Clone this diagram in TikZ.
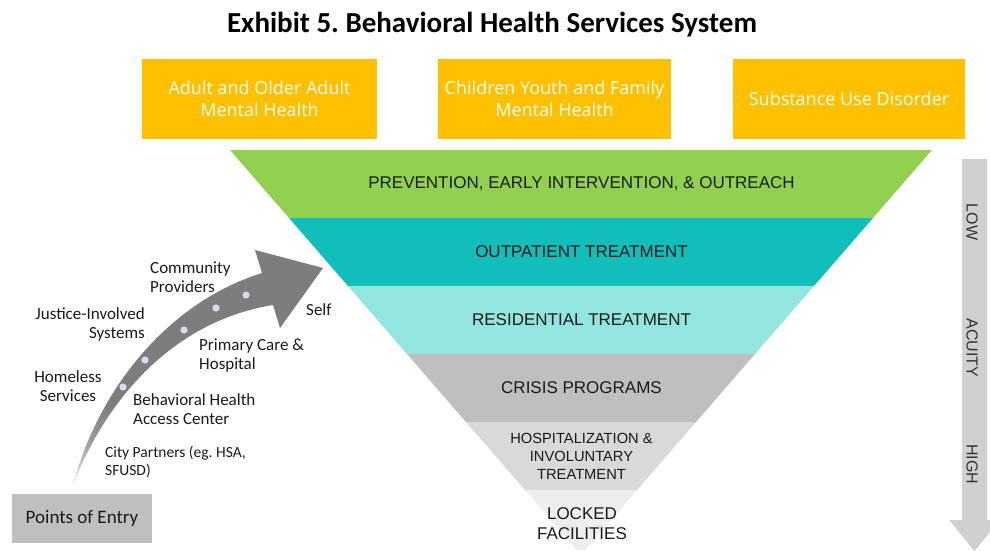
\documentclass[tikz,border=0pt]{standalone}
\usepackage{fontspec}
\setmainfont{Carlito}
\newfontfamily\boxfont{Open Sans}
\newfontfamily\bandfont{Liberation Sans}
\definecolor{orangec}{HTML}{FFC000}
\definecolor{greenc}{HTML}{92D050}
\definecolor{tealc}{HTML}{12BEB9}
\definecolor{cyanc}{HTML}{93E5DF}
\definecolor{grayc}{HTML}{BFBFBF}
\definecolor{lgrayc}{HTML}{D9D9D9}
\definecolor{llgrayc}{HTML}{EEEEEE}
\definecolor{acuityc}{HTML}{D0D0D0}
\definecolor{dotc}{HTML}{D6DBEF}
\definecolor{textc}{HTML}{1A1A1A}
\pgfdeclareverticalshading{entryshade}{100bp}{color(0bp)=(white); color(25bp)=(white!94!black); color(34bp)=(white!62!black); color(42bp)=(white!49!black); color(100bp)=(white!49!black)}
\begin{document}
\frenchspacing
\begin{tikzpicture}[x=1pt,y=-1pt,
  orangebox/.style={fill=orangec, text=white, font=\boxfont\fontsize{18}{22}\selectfont,
    align=center, minimum height=80pt, inner sep=0pt},
  bandlabel/.style={text=textc, font=\bandfont\fontsize{17}{20}\selectfont, align=center, inner sep=0pt},
  entrylabel/.style={text=textc, font=\fontsize{17}{19}\selectfont, inner sep=0pt},
  acuitylabel/.style={text=black!80, font=\bandfont\fontsize{16}{16}\selectfont, rotate=-90, inner sep=0pt},
  entrydot/.style={fill=dotc}
]
\useasboundingbox (0,0) rectangle (990,550);
\fill[white] (0,0) rectangle (990,550);

% title
\node[font=\bfseries\fontsize{29}{32}\selectfont, inner sep=0pt] (title) at (492,25) {Exhibit 5. Behavioral Health Services System};

% top boxes
\node[orangebox, minimum width=235pt] (adult) at (259.5,99) {Adult and Older Adult\\Mental Health};
\node[orangebox, minimum width=233pt] (child) at (554.5,99) {Children Youth and Family\\Mental Health};
\node[orangebox, minimum width=232pt] (sud) at (849,99) {Substance Use Disorder};

% funnel bands
\fill[greenc] (230,150) -- (932,150) -- (873,218) -- (289,218) -- cycle;
\fill[tealc] (289,218) -- (873,218) -- (814,286) -- (348,286) -- cycle;
\fill[cyanc] (348,286) -- (814,286) -- (755,354) -- (407,354) -- cycle;
\fill[grayc] (407,354) -- (755,354) -- (696,422) -- (466,422) -- cycle;
\fill[lgrayc] (466,422) -- (696,422) -- (637,490) -- (525,490) -- cycle;
\fill[llgrayc] (525,490) -- (637,490) -- (585,550) -- (577,550) -- cycle;

\node[bandlabel] (prev) at (581.5,184) {PREVENTION, EARLY INTERVENTION, \& OUTREACH};
\node[bandlabel] (outp) at (581.5,252) {OUTPATIENT TREATMENT};
\node[bandlabel] (resi) at (581.5,320) {RESIDENTIAL TREATMENT};
\node[bandlabel] (cris) at (581.5,388) {CRISIS PROGRAMS};
\node[bandlabel, font=\bandfont\fontsize{14.7}{18}\selectfont] (hosp) at (581.5,456) {HOSPITALIZATION \&\\INVOLUNTARY\\TREATMENT};
\node[bandlabel, font=\bandfont\fontsize{17}{20}\selectfont] (lock) at (582,524) {LOCKED\\FACILITIES};

% acuity arrow
\begin{scope}
\clip (0,0) rectangle (990,550);
\fill[acuityc] (962,159) -- (987,159) -- (987,520) -- (1000,520) -- (974.5,551) -- (949,520) -- (962,520) -- cycle;
\end{scope}
\node[acuitylabel] (low) at (972,222) {LOW};
\node[acuitylabel] (acu) at (972,348) {ACUITY};
\node[acuitylabel] (high) at (972,464) {HIGH};

% points of entry
\node[fill=grayc, minimum width=140pt, minimum height=49pt, inner sep=0pt,
  font=\fontsize{19}{22}\selectfont, text=textc] (entry) at (82,518.5) {Points of Entry};

% curved arrow
\shade[shading=entryshade]
  (73,485) .. controls (95,400) and (160,305) .. (262,273)
  -- (255,250) -- (323,268) -- (280,328) -- (273,305)
  .. controls (180,320) and (110,390) .. (73,485) -- cycle;
\coordinate (arrowtip) at (323,268);
\foreach \p in {(123,387),(145,360),(184,330),(216,308),(246,295)}
  \fill[entrydot] \p circle (3.6);

% entry labels
\node[entrylabel, align=left, anchor=west] (comm) at (150,277.5) {Community\\Providers};
\node[entrylabel, align=right, anchor=east] (just) at (145,324.5) {Justice-Involved\\Systems};
\node[entrylabel, align=center] (home) at (68,386.5) {Homeless\\Services};
\node[entrylabel, anchor=west] (self) at (306,310) {Self};
\node[entrylabel, align=left, anchor=west] (prim) at (199,355.5) {Primary Care \&\\Hospital};
\node[entrylabel, align=left, anchor=west] (bhac) at (133,409.5) {Behavioral Health\\Access Center};
\node[entrylabel, align=left, anchor=west, font=\fontsize{15.5}{18}\selectfont] (city) at (105,462) {City Partners (eg. HSA,\\SFUSD)};
\end{tikzpicture}
\end{document}
